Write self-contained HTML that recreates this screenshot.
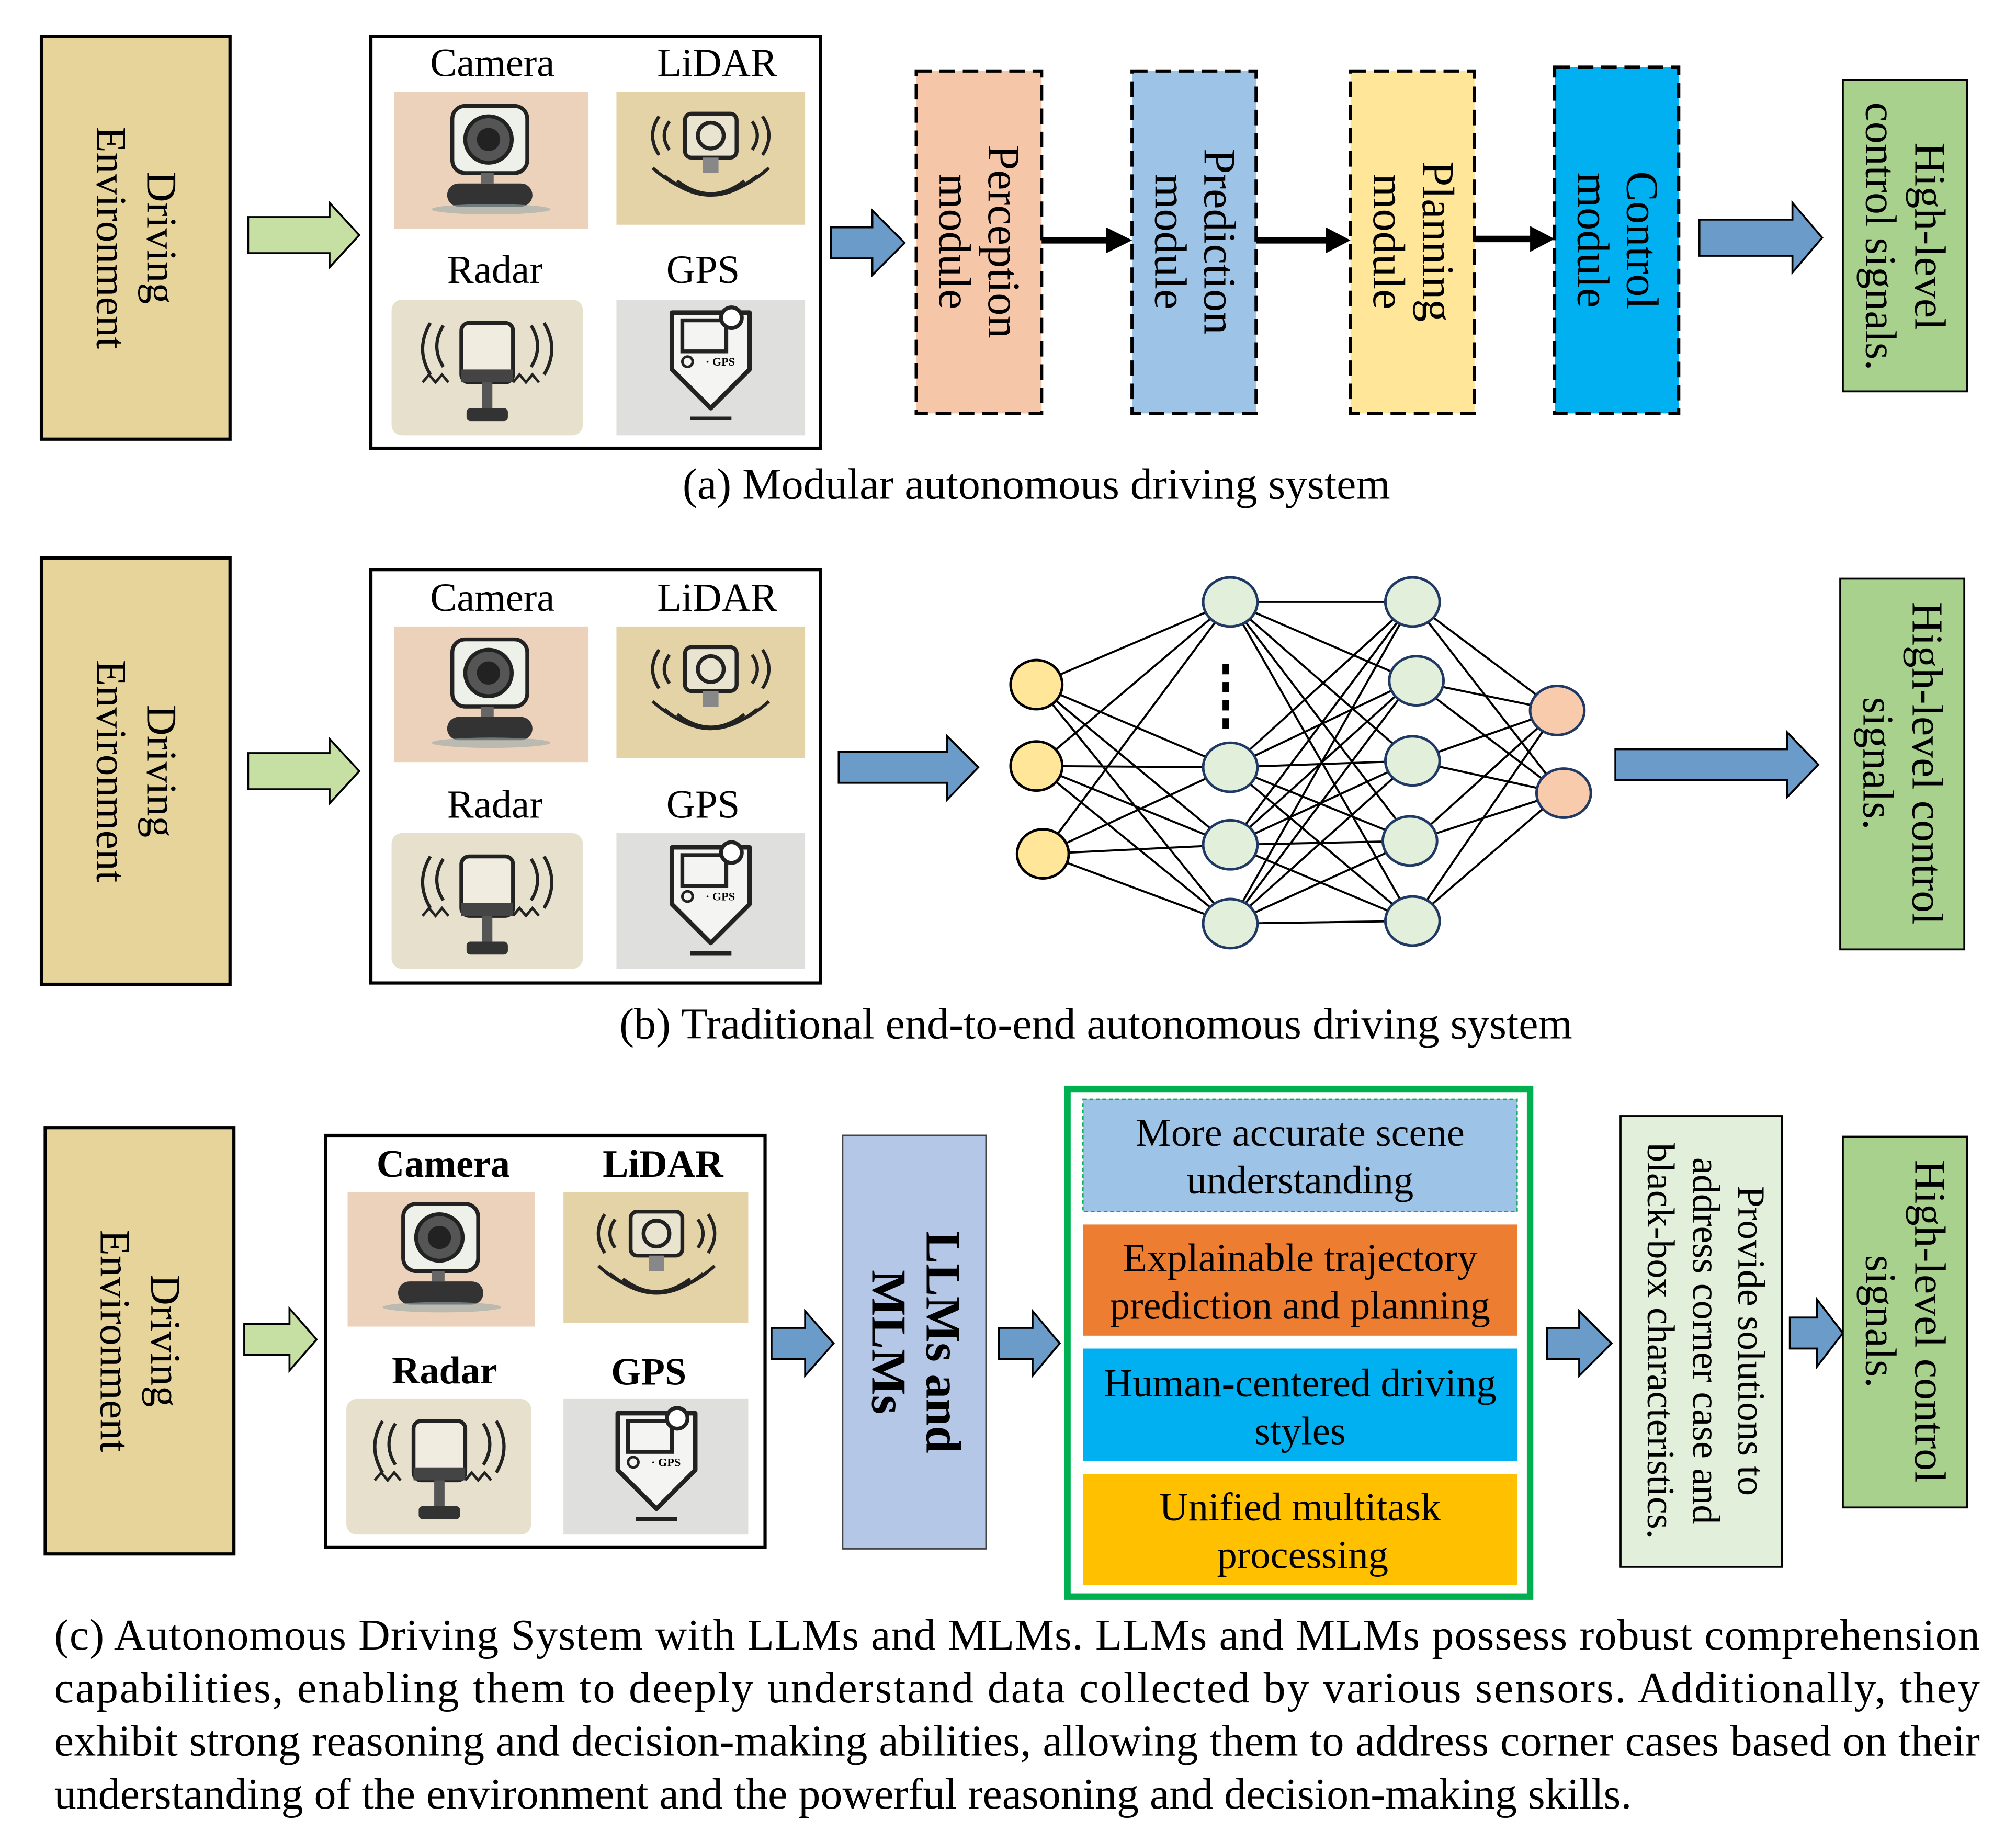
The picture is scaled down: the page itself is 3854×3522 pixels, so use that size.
<!DOCTYPE html>
<html><head><meta charset="utf-8"><style>
html,body{margin:0;padding:0;background:#fff}
svg{display:block}
text{font-family:"Liberation Serif",serif;fill:#000}
</style></head><body>
<svg width="3854" height="3522" viewBox="0 0 1560 1426" preserveAspectRatio="none" xmlns="http://www.w3.org/2000/svg">
<defs>
<g id="cam">
 <rect x="-30" y="-38" width="58" height="52" rx="10" fill="#eef0ea" stroke="#222" stroke-width="3"/>
 <circle cx="-2" cy="-12" r="18" fill="#555" stroke="#222" stroke-width="3"/>
 <circle cx="-2" cy="-12" r="9" fill="#222"/>
 <rect x="-8" y="14" width="10" height="8" fill="#666"/>
 <rect x="-34" y="22" width="66" height="18" rx="9" fill="#333"/>
 <ellipse cx="0" cy="42" rx="46" ry="4" fill="#9aa" opacity="0.6"/>
</g>
<g id="lidar">
 <rect x="-20" y="-32" width="40" height="34" rx="5" fill="#e8e4d0" stroke="#222" stroke-width="3"/>
 <circle cx="0" cy="-15" r="10" fill="none" stroke="#222" stroke-width="3"/>
 <path d="M-40 -30 q-10 15 0 30 M-32 -26 q-8 11 0 22 M40 -30 q10 15 0 30 M32 -26 q8 11 0 22" fill="none" stroke="#222" stroke-width="2.5"/>
 <path d="M-45 10 q45 40 90 0 M-36 16 q36 30 72 0 M-26 20 q26 20 52 0" fill="none" stroke="#222" stroke-width="2.5"/>
 <rect x="-6" y="2" width="12" height="12" fill="#888"/>
</g>
<g id="radar">
 <rect x="-20" y="-30" width="40" height="46" rx="6" fill="#f0ece0" stroke="#222" stroke-width="3"/>
 <rect x="-20" y="6" width="40" height="10" fill="#444"/>
 <rect x="-4" y="16" width="8" height="22" fill="#555"/>
 <rect x="-16" y="36" width="32" height="10" rx="3" fill="#333"/>
 <path d="M-34 -28 q-10 16 0 32 M34 -28 q10 16 0 32 M-44 -30 q-12 20 0 40 M44 -30 q12 20 0 40" fill="none" stroke="#222" stroke-width="2.5"/>
 <path d="M-50 16 l5 -6 5 6 5 -6 5 6 M20 16 l5 -6 5 6 5 -6 5 6" fill="none" stroke="#222" stroke-width="2"/>
</g>
<g id="gps">
 <path d="M-30 -34 h60 v44 l-30 30 l-30 -30 z" fill="#f4f4f2" stroke="#222" stroke-width="3.5" stroke-linejoin="round"/>
 <rect x="-22" y="-28" width="34" height="24" fill="none" stroke="#222" stroke-width="3"/>
 <circle cx="16" cy="-30" r="8" fill="#fff" stroke="#222" stroke-width="3"/>
 <circle cx="-18" cy="4" r="4" fill="none" stroke="#222" stroke-width="2"/>
 <text x="-4" y="7" font-family="Liberation Sans" font-size="9" font-weight="bold">· GPS</text>
 <line x1="-16" y1="48" x2="16" y2="48" stroke="#222" stroke-width="3"/>
</g>
</defs>

<!-- ===== Panel (a) ===== -->
<rect x="32" y="28" width="146" height="312" fill="#e6d49b" stroke="#000" stroke-width="2.5"/>
<g transform="translate(105,184) rotate(90)" font-size="33" text-anchor="middle"><text x="0" y="-9">Driving</text><text x="0" y="30">Environment</text></g>
<polygon points="192,168 255,168 255,157 278,182 255,207 255,196 192,196" fill="#c6e0a4" stroke="#000" stroke-width="1.5"/>
<rect x="287" y="28" width="348" height="319" fill="#fff" stroke="#000" stroke-width="2.5"/>
<g font-size="31" text-anchor="middle"><text x="381" y="59">Camera</text><text x="555" y="59">LiDAR</text><text x="383" y="219">Radar</text><text x="544" y="219">GPS</text></g>
<rect x="305" y="71" width="150" height="106" fill="#edd2bb"/><use href="#cam" x="380" y="120"/>
<rect x="477" y="71" width="146" height="103" fill="#e4d3a6"/><use href="#lidar" x="550" y="120"/>
<rect x="303" y="232" width="148" height="105" rx="8" fill="#e6e0cc"/><use href="#radar" x="377" y="280"/>
<rect x="477" y="232" width="146" height="105" fill="#dfe0dd"/><use href="#gps" x="550" y="276"/>
<polygon points="643,176 675,176 675,163 700,188 675,213 675,200 643,200" fill="#6a9bc9" stroke="#000" stroke-width="1.5"/>
<g stroke="#000" stroke-width="2.5" stroke-dasharray="12,6">
<rect x="709" y="55" width="97" height="265" fill="#f6c6a8"/>
<rect x="876" y="55" width="96" height="265" fill="#9dc3e6"/>
<rect x="1045" y="55" width="96" height="265" fill="#ffe699"/>
<rect x="1203" y="52" width="96" height="268" fill="#00b0f0"/>
</g>
<g font-size="35" text-anchor="middle">
<g transform="translate(757,187) rotate(90)"><text x="0" y="-8">Perception</text><text x="0" y="30">module</text></g>
<g transform="translate(924,187) rotate(90)"><text x="0" y="-8">Prediction</text><text x="0" y="30">module</text></g>
<g transform="translate(1093,187) rotate(90)"><text x="0" y="-8">Planning</text><text x="0" y="30">module</text></g>
<g transform="translate(1251,186) rotate(90)"><text x="0" y="-8">Control</text><text x="0" y="30">module</text></g>
</g>
<g stroke="#000" stroke-width="5"><line x1="806" y1="186" x2="860" y2="186"/><line x1="972" y1="186" x2="1030" y2="186"/><line x1="1141" y1="185" x2="1188" y2="185"/></g>
<g fill="#000"><polygon points="856,176 876,186 856,196"/><polygon points="1026,176 1045,186 1026,196"/><polygon points="1184,175 1203,185 1184,195"/></g>
<polygon points="1315,170 1387,170 1387,157 1410,184 1387,211 1387,198 1315,198" fill="#6a9bc9" stroke="#000" stroke-width="1.5"/>
<rect x="1426" y="62" width="96" height="241" fill="#a9d18e" stroke="#000" stroke-width="1.5"/>
<g transform="translate(1474,183) rotate(90)" font-size="34" text-anchor="middle"><text x="0" y="-8">High-level</text><text x="0" y="30">control signals.</text></g>
<text x="802" y="386" font-size="34" text-anchor="middle">(a) Modular autonomous driving system</text>

<!-- ===== Panel (b) ===== -->
<rect x="32" y="432" width="146" height="330" fill="#e6d49b" stroke="#000" stroke-width="2.5"/>
<g transform="translate(105,597) rotate(90)" font-size="33" text-anchor="middle"><text x="0" y="-9">Driving</text><text x="0" y="30">Environment</text></g>
<polygon points="192,583 255,583 255,572 278,597 255,622 255,611 192,611" fill="#c6e0a4" stroke="#000" stroke-width="1.5"/>
<rect x="287" y="441" width="348" height="320" fill="#fff" stroke="#000" stroke-width="2.5"/>
<g font-size="31" text-anchor="middle"><text x="381" y="473">Camera</text><text x="555" y="473">LiDAR</text><text x="383" y="633">Radar</text><text x="544" y="633">GPS</text></g>
<rect x="305" y="485" width="150" height="105" fill="#edd2bb"/><use href="#cam" x="380" y="533"/>
<rect x="477" y="485" width="146" height="102" fill="#e4d3a6"/><use href="#lidar" x="550" y="533"/>
<rect x="303" y="645" width="148" height="105" rx="8" fill="#e6e0cc"/><use href="#radar" x="377" y="693"/>
<rect x="477" y="645" width="146" height="105" fill="#dfe0dd"/><use href="#gps" x="550" y="690"/>
<polygon points="649,582 733,582 733,570 757,594 733,619 733,606 649,606" fill="#6a9bc9" stroke="#000" stroke-width="1.5"/>
<g stroke="#000" stroke-width="1.6">
<path d="M802 530L952 466M802 530L952 594M802 530L952 654M802 530L952 715M802 593L952 466M802 593L952 594M802 593L952 654M802 593L952 715M807 661L952 466M807 661L952 594M807 661L952 654M807 661L952 715"/>
<path d="M952 466L1093 466M952 466L1093 527M952 466L1093 589M952 466L1093 651M952 466L1093 713M952 594L1093 466M952 594L1093 527M952 594L1093 589M952 594L1093 651M952 594L1093 713M952 654L1093 466M952 654L1093 527M952 654L1093 589M952 654L1093 651M952 654L1093 713M952 715L1093 466M952 715L1093 527M952 715L1093 589M952 715L1093 651M952 715L1093 713"/>
<path d="M1093 466L1205 550M1093 466L1208 614M1093 527L1205 550M1093 527L1208 614M1093 589L1205 550M1093 589L1208 614M1093 651L1205 550M1093 651L1208 614M1093 713L1205 550M1093 713L1208 614"/>
</g>
<g stroke="#1f3864" stroke-width="2">
<ellipse cx="802" cy="530" rx="20" ry="19" fill="#ffe699" stroke="#000"/>
<ellipse cx="802" cy="593" rx="20" ry="19" fill="#ffe699" stroke="#000"/>
<ellipse cx="807" cy="661" rx="20" ry="19" fill="#ffe699" stroke="#000"/>
<ellipse cx="952" cy="466" rx="21" ry="19" fill="#e2efda"/>
<ellipse cx="952" cy="594" rx="21" ry="19" fill="#e2efda"/>
<ellipse cx="952" cy="654" rx="21" ry="19" fill="#e2efda"/>
<ellipse cx="952" cy="715" rx="21" ry="19" fill="#e2efda"/>
<ellipse cx="1093" cy="466" rx="21" ry="19" fill="#e2efda"/>
<ellipse cx="1096" cy="527" rx="21" ry="19" fill="#e2efda"/>
<ellipse cx="1093" cy="589" rx="21" ry="19" fill="#e2efda"/>
<ellipse cx="1091" cy="651" rx="21" ry="19" fill="#e2efda"/>
<ellipse cx="1093" cy="713" rx="21" ry="19" fill="#e2efda"/>
<ellipse cx="1205" cy="550" rx="21" ry="19" fill="#f8cbad"/>
<ellipse cx="1210" cy="614" rx="21" ry="19" fill="#f8cbad"/>
</g>
<g fill="#000"><rect x="946" y="514" width="5" height="8"/><rect x="946" y="528" width="5" height="8"/><rect x="946" y="542" width="5" height="8"/><rect x="946" y="556" width="5" height="8"/></g>
<polygon points="1250,580 1383,580 1383,567 1407,592 1383,617 1383,604 1250,604" fill="#6a9bc9" stroke="#000" stroke-width="1.5"/>
<rect x="1424" y="448" width="96" height="287" fill="#a9d18e" stroke="#000" stroke-width="1.5"/>
<g transform="translate(1472,591) rotate(90)" font-size="34" text-anchor="middle"><text x="0" y="-8">High-level control</text><text x="0" y="30">signals.</text></g>
<text x="848" y="804" font-size="34" text-anchor="middle">(b) Traditional end-to-end autonomous driving system</text>

<!-- ===== Panel (c) ===== -->
<rect x="35" y="873" width="146" height="330" fill="#e6d49b" stroke="#000" stroke-width="2.5"/>
<g transform="translate(108,1038) rotate(90)" font-size="33" text-anchor="middle"><text x="0" y="-9">Driving</text><text x="0" y="30">Environment</text></g>
<polygon points="189,1025 224,1025 224,1013 245,1037 224,1061 224,1049 189,1049" fill="#c6e0a4" stroke="#000" stroke-width="1.5"/>
<rect x="252" y="879" width="340" height="319" fill="#fff" stroke="#000" stroke-width="2.5"/>
<g font-size="30" font-weight="bold" text-anchor="middle"><text x="343" y="911">Camera</text><text x="513" y="911">LiDAR</text><text x="344" y="1071">Radar</text><text x="502" y="1072">GPS</text></g>
<rect x="269" y="923" width="145" height="104" fill="#edd2bb"/><use href="#cam" x="342" y="970"/>
<rect x="436" y="923" width="143" height="101" fill="#e4d3a6"/><use href="#lidar" x="508" y="970"/>
<rect x="268" y="1083" width="143" height="105" rx="8" fill="#e6e0cc"/><use href="#radar" x="340" y="1130"/>
<rect x="436" y="1083" width="143" height="105" fill="#dfe0dd"/><use href="#gps" x="508" y="1128"/>
<polygon points="597,1028 623,1028 623,1015 645,1040 623,1065 623,1052 597,1052" fill="#6a9bc9" stroke="#000" stroke-width="1.5"/>
<rect x="652" y="879" width="111" height="320" fill="#b4c7e7" stroke="#444" stroke-width="1.2"/>
<g transform="translate(707,1039) rotate(90)" font-size="38" font-weight="bold" text-anchor="middle"><text x="0" y="-10">LLMs and</text><text x="0" y="32">MLMs</text></g>
<polygon points="773,1028 799,1028 799,1015 820,1040 799,1065 799,1052 773,1052" fill="#6a9bc9" stroke="#000" stroke-width="1.5"/>
<rect x="826" y="843" width="358" height="393" fill="#fff" stroke="#00b050" stroke-width="5"/>
<rect x="838" y="851" width="336" height="87" fill="#9dc3e6" stroke="#00b050" stroke-width="1" stroke-dasharray="3,2"/>
<rect x="838" y="948" width="336" height="86" fill="#ed7d31"/>
<rect x="838" y="1044" width="336" height="87" fill="#00b0f0"/>
<rect x="838" y="1141" width="336" height="86" fill="#ffc000"/>
<g font-size="31" text-anchor="middle">
<text x="1006" y="887">More accurate scene</text><text x="1006" y="924">understanding</text>
<text x="1006" y="984">Explainable trajectory</text><text x="1006" y="1021">prediction and planning</text>
<text x="1006" y="1081">Human-centered driving</text><text x="1006" y="1118">styles</text>
<text x="1006" y="1177">Unified multitask</text><text x="1008" y="1214">processing</text>
</g>
<polygon points="1197,1028 1222,1028 1222,1015 1247,1040 1222,1065 1222,1052 1197,1052" fill="#6a9bc9" stroke="#000" stroke-width="1.5"/>
<rect x="1254" y="864" width="125" height="349" fill="#e2efda" stroke="#000" stroke-width="1.5"/>
<g transform="translate(1316,1038) rotate(90)" font-size="30" text-anchor="middle"><text x="0" y="-29">Provide solutions to</text><text x="0" y="6">address corner case and</text><text x="0" y="41">black-box characteristics.</text></g>
<polygon points="1385,1020 1406,1020 1406,1006 1426,1032 1406,1058 1406,1044 1385,1044" fill="#6a9bc9" stroke="#000" stroke-width="1.5"/>
<rect x="1426" y="880" width="96" height="287" fill="#a9d18e" stroke="#000" stroke-width="1.5"/>
<g transform="translate(1474,1023) rotate(90)" font-size="34" text-anchor="middle"><text x="0" y="-8">High-level control</text><text x="0" y="30">signals.</text></g>

<g font-size="34">
<text x="42" y="1277" textLength="1490" lengthAdjust="spacing">(c) Autonomous Driving System with LLMs and MLMs. LLMs and MLMs possess robust comprehension</text>
<text x="42" y="1318" textLength="1490" lengthAdjust="spacing">capabilities, enabling them to deeply understand data collected by various sensors. Additionally, they</text>
<text x="42" y="1359" textLength="1490" lengthAdjust="spacing">exhibit strong reasoning and decision-making abilities, allowing them to address corner cases based on their</text>
<text x="42" y="1400">understanding of the environment and the powerful reasoning and decision-making skills.</text>
</g>
</svg>
</body></html>
